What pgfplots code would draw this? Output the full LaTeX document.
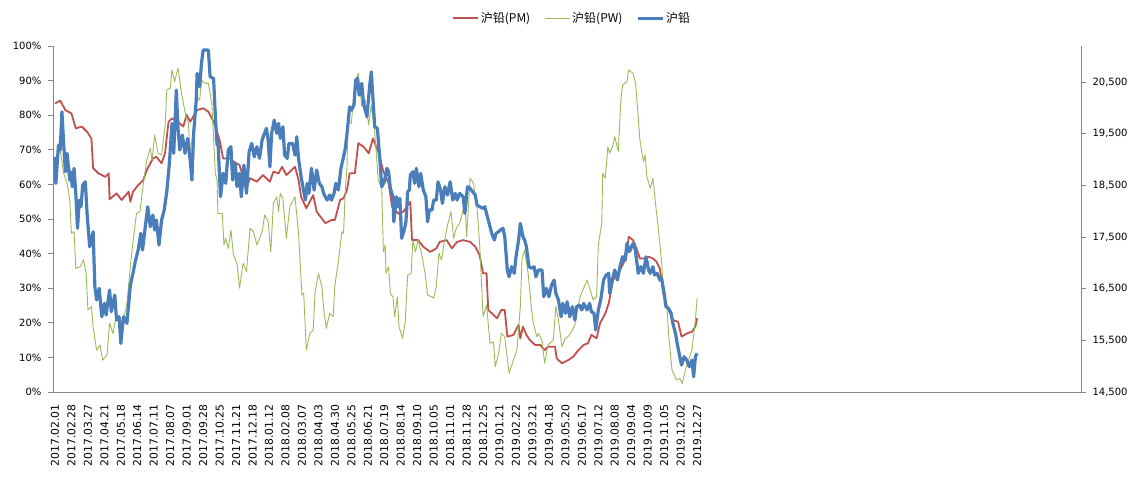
\documentclass[border=0pt]{standalone}
\usepackage{pgfplots}
\pgfplotsset{compat=1.18}
\usepackage{fontspec}
\setmainfont{DejaVu Sans}
\newfontfamily\cjk{Noto Sans CJK SC}

\definecolor{pmred}{RGB}{192,80,77}
\definecolor{pwgreen}{RGB}{155,187,89}
\definecolor{pbblue}{RGB}{74,126,187}
\definecolor{axgray}{RGB}{134,134,134}

\pgfplotsset{
  base/.style={
    scale only axis,
    width=1028pt, height=346pt,
    xmin=-2.3, xmax=1184,
    tick label style={font=\fontsize{10}{12}\selectfont},
    /pgf/number format/assume math mode=true,
    scaled y ticks=false,
    axis line style={draw=axgray, line width=0.8pt, -},
    tick style={draw=axgray, line width=0.8pt},
    tick align=outside,
    major tick length=5pt,
  },
}

\begin{document}
\begin{tikzpicture}
\begin{axis}[
  base,
  axis x line*=bottom,
  axis y line*=left,
  ymin=0, ymax=100,
  ytick={0,10,...,100},
  yticklabels={0\%,10\%,20\%,30\%,40\%,50\%,60\%,70\%,80\%,90\%,100\%},
  yticklabel style={xshift=-3pt},
  xtick={0,19,...,741},
  xticklabels={2017.02.01,2017.02.28,2017.03.27,2017.04.21,2017.05.18,2017.06.14,2017.07.11,2017.08.07,2017.09.01,2017.09.28,2017.10.25,2017.11.21,2017.12.18,2018.01.12,2018.02.08,2018.03.07,2018.04.03,2018.04.30,2018.05.25,2018.06.21,2018.07.19,2018.08.14,2018.09.10,2018.10.05,2018.11.01,2018.11.28,2018.12.25,2019.01.21,2019.02.22,2019.03.21,2019.04.18,2019.05.20,2019.06.17,2019.07.12,2019.08.08,2019.09.04,2019.10.09,2019.11.05,2019.12.02,2019.12.27},
  xticklabel style={rotate=90, anchor=east, xshift=-4pt, font=\fontsize{10.8}{12}\selectfont},
  x tick style={draw=none},
  legend style={at={(0.505,1.08)}, anchor=center, draw=none, fill=none,
    legend columns=3, font=\cjk\fontsize{12}{14}\selectfont,
    /tikz/every even column/.append style={column sep=12pt}},
  legend image code/.code={\draw[#1] (0pt,0pt) -- (25pt,0pt);},
]
\coordinate (ll) at (rel axis cs:0,0);
\coordinate (ur) at (rel axis cs:1,1);
\addplot[pmred, line width=1.8pt, line join=round] coordinates {
(0,83.4)(6,84.2)(12,81.5)(19,80.5)(24,76.2)(31,76.7)(37,75.2)(42,73.3)(44,64.7)(50,63.2)(58,62.2)(62,63.2)(63,55.7)(71,57.4)(77,55.5)(85,57.9)(87,55.0)(90,57.9)(96,59.8)(102,61.3)(106,64.2)(113,67.5)(117,68.0)(123,66.1)(127,69.0)(131,78.1)(135,79.1)(142,78.1)(148,76.7)(152,80.1)(156,78.1)(164,81.5)(171,82.0)(177,81.0)(183,78.1)(187,75.2)(190,72.8)(194,67.5)(202,67.5)(206,66.6)(213,65.6)(221,58.9)(225,61.8)(233,60.8)(240,62.7)(248,60.8)(252,63.7)(258,63.2)(262,65.1)(267,62.7)(277,65.1)(281,61.3)(284,56.4)(290,53.1)(298,56.9)(302,52.1)(312,48.8)(319,49.7)(323,49.7)(329,55.5)(333,56.0)(337,58.4)(340,63.2)(346,63.2)(350,71.9)(356,70.9)(362,69.0)(367,73.3)(369,71.9)(373,69.5)(379,63.7)(385,60.3)(389,53.6)(396,51.6)(402,52.1)(410,55.0)(412,43.9)(419,43.9)(425,42.0)(433,40.5)(440,41.5)(444,43.4)(452,43.9)(458,41.5)(464,43.4)(471,43.9)(479,43.4)(485,42.0)(490,39.6)(494,34.3)(498,34.3)(500,23.7)(506,22.3)(510,21.3)(515,23.7)(519,23.7)(522,16.0)(529,16.5)(535,19.4)(537,15.5)(540,18.9)(544,16.5)(548,15.0)(554,13.6)(560,13.6)(565,12.1)(569,13.1)(577,13.1)(579,9.7)(585,8.3)(592,9.2)(598,10.2)(604,12.1)(610,13.6)(615,14.1)(619,16.5)(625,15.5)(629,19.9)(635,22.7)(639,25.6)(644,32.4)(650,34.3)(656,37.2)(660,40.1)(662,44.9)(667,43.9)(671,41.5)(675,38.6)(681,38.6)(685,39.1)(690,38.6)(694,37.7)(698,35.7)(702,28.5)(706,24.7)(710,22.7)(713,20.8)(719,20.3)(723,16.0)(729,16.9)(735,17.4)(739,18.9)(741,21.3)
};
\addlegendentry{沪铅(PM)}
\addplot[pwgreen, line width=0.9pt, line join=round] coordinates {
(0,66)(6,70)(10,63.2)(14,60.3)(17,55.5)(19,45.9)(22,46.3)(24,35.7)(29,36.2)(33,38.2)(36,34.3)(38,23.7)(42,24.7)(44,18.9)(48,12.1)(52,13.6)(55,9.2)(60,10.7)(63,19.9)(67,16.9)(71,22.7)(77,18.9)(83,25.6)(88,39.1)(94,51.6)(98,52.1)(102,60.3)(106,67.1)(110,70.4)(112,67.1)(115,74.3)(119,69.0)(123,68.5)(127,76.7)(129,87.3)(133,87.8)(135,93.1)(138,89.7)(142,93.6)(146,86.3)(150,81.0)(154,77.7)(156,69.0)(160,76.7)(163,85.3)(167,84.4)(169,90.2)(173,89.2)(177,89.2)(181,83.4)(185,63.2)(187,61.3)(188,51.6)(193,51.6)(195,42.5)(197,44.4)(200,41.5)(203,46.8)(206,39.6)(210,37.2)(213,30.0)(217,37.2)(221,34.8)(225,47.3)(229,46.3)(233,42.5)(239,46.3)(242,51.2)(246,49.2)(249,40.5)(252,54.5)(256,56.4)(258,52.1)(260,57.4)(263,56.0)(267,44.4)(271,53.6)(277,56.4)(281,45.9)(285,28.0)(287,28.5)(290,12.1)(294,16.9)(298,17.9)(300,28.5)(304,34.3)(308,30.4)(310,24.2)(313,18.4)(317,22.7)(321,21.8)(323,30.9)(327,37.7)(331,46.3)(333,45.9)(335,58.4)(337,65.1)(338,77.7)(342,77.7)(346,89.2)(350,92.1)(354,82.5)(358,84.4)(362,77.2)(365,82.9)(369,75.0)(373,61.3)(377,58.9)(379,40.5)(381,42.5)(382,34.3)(385,36.2)(387,28.5)(390,27.5)(392,21.8)(395,27.5)(397,18.9)(401,15.5)(404,19.9)(407,33.8)(411,34.3)(413,43.9)(416,40.5)(419,43.9)(423,40.1)(427,34.3)(430,28.0)(435,27.5)(437,27.1)(440,30.4)(443,40.1)(446,38.2)(449,43.0)(453,48.3)(457,52.1)(460,44.4)(463,47.3)(467,48.8)(471,52.6)(473,55.0)(475,44.9)(479,61.8)(483,60.3)(487,53.1)(490,43.0)(494,21.8)(498,25.1)(502,14.1)(506,14.5)(508,7.3)(512,11.2)(515,16.9)(519,16.0)(524,5.4)(529,9.2)(533,12.1)(537,24.7)(539,38.6)(542,41.0)(546,34.3)(550,23.7)(552,20.0)(556,16.0)(558,16.9)(562,15.0)(565,8.3)(569,13.6)(575,15.0)(578,24.7)(581,20.8)(585,13.1)(589,15.5)(592,16.0)(596,17.4)(600,19.4)(602,23.2)(606,27.5)(610,30.0)(614,32.4)(617,30.0)(621,26.6)(625,27.5)(627,42.5)(631,48.8)(632,63.2)(635,61.8)(638,70.9)(640,69.0)(644,71.4)(646,73.8)(650,69.5)(653,84.4)(655,88.7)(660,89.7)(662,93.1)(667,92.1)(670,89.2)(673,79.6)(675,72.8)(679,66.6)(681,68.5)(683,62.2)(687,58.9)(690,61.8)(694,52.1)(696,47.8)(700,37.7)(702,29.0)(706,25.6)(708,16.9)(712,6.4)(717,3.5)(721,3.9)(724,2.5)(727,5.9)(731,9.2)(735,12.1)(739,20.8)(741,27.1)
};
\addlegendentry{沪铅(PW)}
\addlegendimage{pbblue, line width=2.8pt}
\addlegendentry{沪铅}
\end{axis}

\begin{axis}[
  base,
  axis x line=none,
  axis y line*=right,
  ymin=14500, ymax=21197,
  ytick={14500,15500,...,20500},
  yticklabels={{14,500},{15,500},{16,500},{17,500},{18,500},{19,500},{20,500}},
  yticklabel style={xshift=3pt},
]
\addplot[pbblue, line width=3.2pt, line join=round] coordinates {
(0,19053)(1,18538)(4,19279)(6,19183)(8,19924)(10,19312)(12,18763)(14,19119)(17,18602)(18,18763)(20,18473)(22,18829)(24,18345)(26,17668)(28,18215)(30,18086)(32,18505)(35,18569)(37,17958)(40,17312)(42,17441)(44,17602)(46,16538)(48,16280)(51,16507)(54,15957)(57,16216)(59,15990)(63,16474)(65,16054)(69,16377)(71,15893)(74,15957)(76,15442)(79,15957)(83,15829)(87,16570)(90,16797)(93,17054)(96,17248)(99,17571)(101,17248)(104,17668)(107,18086)(110,17699)(113,17925)(115,17635)(117,17828)(120,17344)(123,17828)(126,18022)(129,18376)(132,18925)(135,19699)(137,19119)(140,20344)(142,19603)(144,19183)(147,19473)(150,19119)(153,19409)(156,18989)(158,18602)(160,19506)(163,20150)(164,20667)(167,20408)(169,20860)(171,21118)(177,21118)(179,20601)(183,20570)(185,19860)(187,19279)(188,19376)(191,18279)(194,18732)(197,18538)(200,19183)(203,19247)(205,18602)(208,18925)(210,18473)(213,18732)(215,18279)(218,18892)(221,18345)(224,19150)(227,19312)(230,19053)(233,19247)(236,19022)(239,19376)(241,19473)(244,19603)(246,19376)(248,18860)(250,19506)(253,19763)(256,19506)(258,19699)(260,19409)(263,19634)(265,19086)(268,19022)(270,19312)(274,19312)(277,19086)(279,19440)(281,19022)(284,18666)(286,18473)(289,18215)(291,18538)(293,18345)(296,18829)(299,18409)(302,18796)(305,18538)(308,18473)(310,18345)(314,18215)(317,18312)(319,18215)(322,18345)(324,18538)(327,18409)(330,18829)(333,19053)(335,19216)(337,19506)(340,20021)(342,19957)(345,20053)(347,20537)(349,20570)(351,20247)(354,20473)(356,20086)(358,19957)(360,19827)(363,20408)(365,20698)(367,20150)(369,19634)(372,19603)(375,18989)(377,18473)(380,18569)(383,18829)(385,18763)(387,18442)(390,18279)(391,17795)(394,18279)(396,18086)(398,18248)(400,17474)(403,17635)(405,17795)(407,18376)(409,18409)(410,18699)(413,18763)(415,18538)(417,18829)(420,18473)(422,18732)(425,18409)(428,18279)(430,17795)(432,18022)(435,18022)(437,18215)(440,18215)(442,18569)(445,18409)(447,18151)(450,18473)(453,18312)(456,18569)(459,18215)(462,18345)(464,18215)(467,18345)(471,18279)(473,17958)(476,18473)(479,18442)(482,18376)(485,18312)(487,18118)(490,18086)(494,18055)(496,18086)(499,17892)(501,17764)(504,17571)(507,17441)(509,17571)(512,17602)(514,17635)(517,17668)(519,17505)(522,16861)(524,16731)(527,16925)(530,16797)(532,17118)(535,17441)(537,17764)(540,17505)(542,17441)(544,17312)(547,16925)(550,16894)(553,16925)(555,16731)(558,16861)(562,16861)(564,16344)(567,16507)(570,16344)(573,16570)(576,16667)(578,16410)(581,16280)(584,15957)(586,16216)(589,16023)(591,16247)(594,15957)(597,16151)(600,15893)(602,16151)(605,16183)(608,16087)(610,16216)(614,16087)(617,16216)(619,16054)(622,16023)(624,15700)(627,16087)(630,16313)(633,16667)(636,16764)(639,16797)(640,16410)(644,16731)(646,16861)(649,16667)(652,16925)(655,17118)(658,17054)(660,17377)(663,17215)(666,17344)(668,17377)(670,17215)(673,16797)(676,16925)(679,16797)(682,17118)(685,16861)(687,16797)(690,16925)(692,16764)(695,16797)(698,16667)(700,16700)(703,16410)(705,16151)(708,16120)(711,16023)(713,15829)(716,15636)(718,15442)(721,15183)(723,15022)(726,15183)(729,15119)(732,14990)(735,15119)(737,14796)(739,15183)(741,15249)
};
\end{axis}
\pgfresetboundingbox
\path[use as bounding box] ([xshift=-53pt,yshift=-85pt]ll) rectangle ([xshift=63pt,yshift=46pt]ur);
\end{tikzpicture}
\end{document}
